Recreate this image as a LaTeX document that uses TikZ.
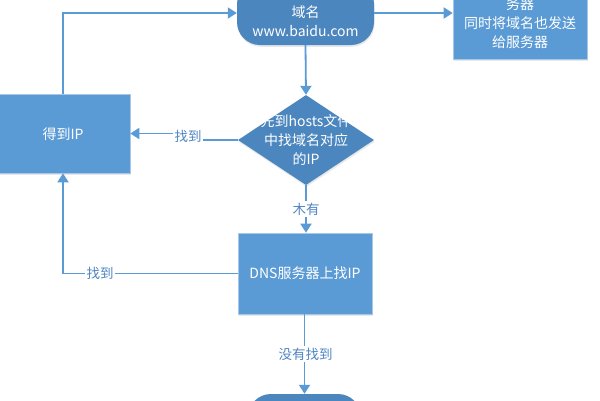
\documentclass[tikz,border=0pt]{standalone}
\usepackage{fontspec}
\newfontfamily\cjk{Noto Sans CJK SC}
\usetikzlibrary{shapes.geometric,arrows.meta,shadows}
\definecolor{lineblue}{HTML}{5B9BD5}
\definecolor{boxblue}{HTML}{5B9BD5}
\definecolor{darkblue}{HTML}{4C86BE}
\definecolor{edgeblue}{HTML}{A9C8E8}
\definecolor{labelblue}{HTML}{4F86C2}
\tikzset{
  sh/.style={drop shadow={opacity=0.18, shadow xshift=0.6pt, shadow yshift=-1.8pt}},
  procbox/.style={rectangle, fill=boxblue, draw=edgeblue, line width=0.6pt, inner sep=0, sh},
  termbox/.style={rectangle, rounded corners=23pt, fill=darkblue, draw=none, inner sep=0, sh},
  decbox/.style={diamond, fill=darkblue, draw=none, inner sep=0, sh},
  txt/.style={font=\cjk\fontsize{14}{19}\selectfont, text=white, align=center, inner sep=0},
  lbl/.style={font=\cjk\fontsize{13.5}{16}\selectfont, text=labelblue, fill=white, inner sep=1.5pt},
  conn/.style={draw=lineblue, line width=1.8pt, -{Triangle[width=11pt,length=9pt]}},
  plain/.style={draw=lineblue, line width=1.8pt}
}
\begin{document}
\begin{tikzpicture}[x=1pt,y=-1pt]
\useasboundingbox (0,0) rectangle (600,400);
\fill[white] (0,0) rectangle (600,400);
% nodes
\node[termbox, minimum width=137, minimum height=64] (top) at (305.5,13) {};
\node[txt] (toptxt) at (305.5,21.5) {域名\\www.baidu.com};
\node[procbox, minimum width=134, minimum height=92] (right) at (520,13) {};
\node[txt] (righttxt) at (520,23.5) {务器\\同时将域名也发送\\给服务器};
\node[procbox, minimum width=134, minimum height=79] (left) at (63,133.5) {};
\node[txt] (lefttxt) at (63,134) {得到IP};
\node[decbox, minimum width=136, minimum height=90] (dec) at (306,140) {};
\node[txt] (dectxt) at (306,140) {先到hosts文件\\中找域名对应\\的IP};
\node[procbox, minimum width=134, minimum height=81] (dns) at (305,273.5) {};
\node[txt] (dnstxt) at (305,273.5) {DNS服务器上找IP};
\node[termbox, minimum width=113, minimum height=60] (bot) at (304.5,424) {};
% connectors
\draw[conn] (left.north) |- (top.west);
\draw[conn] (top.east) -- (right.west);
\draw[conn] (top.south) -- (dec.north);
\coordinate (s1) at (188,136);
\draw[conn] (dec.west) -| (s1) |- (left.east);
\node[lbl] (l1) at (s1) {找到};
\coordinate (c1) at (306,200);
\draw[plain] (dec.south) -- (c1);
\draw[conn] (c1) -- (dns.north -| dec.south);
\node[lbl] (l2) at (306,209) {木有};
\coordinate (c2) at (63,273.5);
\draw[conn] (dns.west) -- (c2) -- (left.south);
\node[lbl] (l3) at (100,273.5) {找到};
\draw[conn] (dns.south -| bot.north) -- (bot.north);
\node[lbl] (l4) at (305.5,354) {没有找到};
\end{tikzpicture}
\end{document}
